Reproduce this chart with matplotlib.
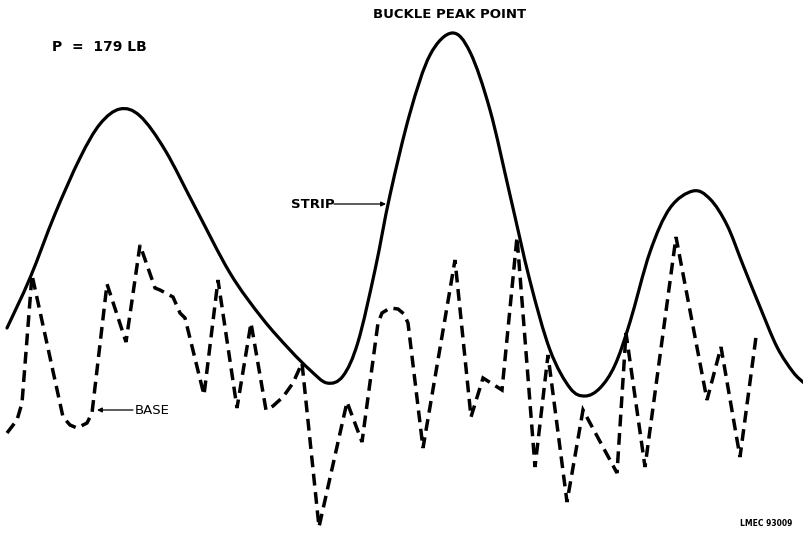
import matplotlib
matplotlib.use("Agg")
import matplotlib.pyplot as plt
from matplotlib.path import Path
from matplotlib.patches import PathPatch

# Strip deflection trace (position along specimen, deflection; downward positive)
strip_x = [7, 30, 55, 80, 100, 120, 140, 165, 195, 230, 262, 290, 310, 327,
           343, 358, 375, 390, 410, 430, 452, 470, 490, 510, 530, 550, 570, 585,
           600, 615, 630, 650, 670, 693, 710, 727, 743, 760, 777, 793, 804]
strip_y = [328, 278, 214, 158, 124, 109, 116, 150, 207, 273, 318, 350, 370, 383,
           376, 342, 270, 195, 113, 55, 33, 52, 110, 195, 281, 350, 388, 396,
           388, 365, 322, 252, 208, 191, 199, 225, 265, 307, 347, 372, 383]

# Base deflection trace
base_x = [7, 17, 22, 32, 63, 70, 77, 87, 92, 107, 126, 140,
          155, 160, 173, 180, 185, 204, 218, 237, 251, 266, 273, 283, 293,
          302, 319, 347, 362, 378, 382, 390, 398, 404, 408, 423, 455, 471, 483,
          502, 517, 535, 548, 567, 583, 617, 626, 645, 676, 707, 721, 740, 756]
base_y = [433, 420, 403, 275, 417, 425, 428, 423, 413, 284, 342, 245,
          288, 290, 297, 313, 318, 395, 280, 408, 323, 410, 406, 397, 383,
          363, 527, 402, 442, 323, 313, 308, 309, 314, 323, 448, 260, 417, 378,
          390, 237, 467, 355, 502, 410, 473, 333, 467, 237, 400, 347, 457, 337]


def smooth_path(xs, ys):
    """Cubic Bezier path through the points (Catmull-Rom tangents)."""
    pts = list(zip(xs, ys))
    n = len(pts)
    verts = [pts[0]]
    codes = [Path.MOVETO]
    for i in range(n - 1):
        p0 = pts[max(i - 1, 0)]
        p1 = pts[i]
        p2 = pts[i + 1]
        p3 = pts[min(i + 2, n - 1)]
        c1 = (p1[0] + (p2[0] - p0[0]) / 6.0, p1[1] + (p2[1] - p0[1]) / 6.0)
        c2 = (p2[0] - (p3[0] - p1[0]) / 6.0, p2[1] - (p3[1] - p1[1]) / 6.0)
        verts += [c1, c2, p2]
        codes += [Path.CURVE4] * 3
    return Path(verts, codes)


fig = plt.figure(figsize=(8.04, 5.33), dpi=100)
ax = fig.add_axes([0, 0, 1, 1])
ax.set_xlim(0, 804)
ax.set_ylim(533, 0)
ax.axis("off")

ax.add_patch(PathPatch(smooth_path(strip_x, strip_y), facecolor="none",
                       edgecolor="black", lw=2.3, capstyle="round", joinstyle="round"))
ax.plot(base_x, base_y, color="black", lw=2.5, linestyle=(0, (3.4, 1.9)),
        dash_capstyle="butt", dash_joinstyle="miter")

txt = dict(family="DejaVu Sans", color="black")
ax.text(52, 47, "P  =  179 LB", fontsize=10, fontweight="bold", va="center", ha="left", **txt)
ax.text(373, 15, "BUCKLE PEAK POINT", fontsize=9.5, fontweight="bold", va="center", ha="left", **txt)
ax.text(291, 204, "STRIP", fontsize=9.5, fontweight="bold", va="center", ha="left", **txt)
ax.text(135, 410, "BASE", fontsize=9.5, va="center", ha="left", **txt)
ax.text(740, 524, "LMEC 93009", fontsize=5.5, fontweight="bold", va="center", ha="left", **txt)

ax.annotate("", xy=(386, 204), xytext=(334, 204),
            arrowprops=dict(arrowstyle="-|>", color="black", lw=0.9,
                            mutation_scale=7, shrinkA=0, shrinkB=0))
ax.annotate("", xy=(97, 410), xytext=(133, 410),
            arrowprops=dict(arrowstyle="-|>", color="black", lw=0.9,
                            mutation_scale=7, shrinkA=0, shrinkB=0))

fig.savefig("out.png", dpi=100, facecolor="white")
